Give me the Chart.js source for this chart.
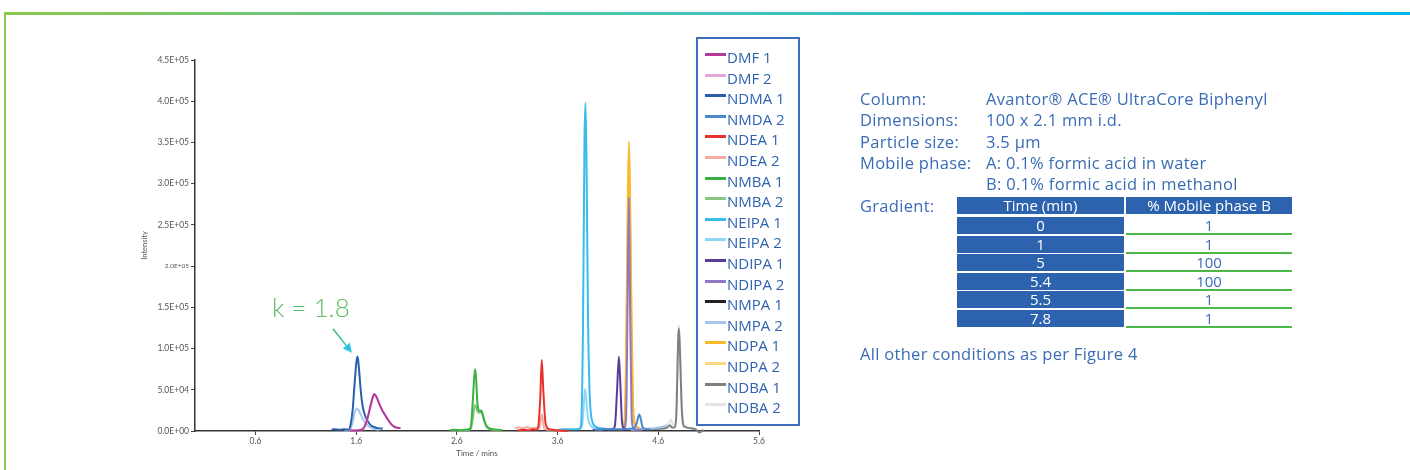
<!DOCTYPE html>
<html>
<head>
<meta charset="utf-8">
<script src="https://cdn.jsdelivr.net/npm/chart.js@4.4.1/dist/chart.umd.min.js"></script>
<style>
  html, body { margin: 0; padding: 0; background: #ffffff; }
  body { width: 1410px; height: 470px; position: relative; overflow: hidden; font-family: "Open Sans", "Noto Sans", sans-serif; }
  #frameTop { position: absolute; left: 4px; top: 12px; width: 1406px; height: 3px; background: linear-gradient(90deg, #8cc84b 0%, #4cc3b0 45%, #00b7ea 100%); }
  #frameLeft { position: absolute; left: 4px; top: 12px; width: 2px; height: 458px; background: #8cc84b; }
  #chart { position: absolute; left: 0; top: 0; }
  #legend { position: absolute; left: 696px; top: 37px; width: 100px; height: 385px; border: 2px solid #3d6fbe; }
  .lg-row { position: absolute; left: 0; height: 20px; width: 100px; }
  .lg-swatch { position: absolute; left: 7px; width: 21px; height: 3px; }
  .lg-text { position: absolute; left: 29px; top: 0; line-height: 20px; font-size: 15px; color: #2f63b1; white-space: nowrap; }
  .info { position: absolute; font-size: 16.5px; letter-spacing: 0.3px; color: #3a6cb6; white-space: nowrap; line-height: 21px; }
  .cell { position: absolute; height: 17px; line-height: 17px; font-size: 15px; text-align: center; white-space: nowrap; }
  .cell.head { background: #2c62ae; color: #ffffff; }
  .cell.time { background: #2c62ae; color: #ffffff; }
  .cell.pct { background: #ffffff; color: #3a6cb6; border-bottom: 2px solid #4cb848; height: 16px; line-height: 17px; }
</style>
</head>
<body>
<div id="frameTop"></div>
<div id="frameLeft"></div>
<canvas id="chart" width="1410" height="470"></canvas>
<div id="legend"></div>
<div id="panel"></div>
<script>
// ---- Chromatogram traces: retention time (min) and intensity (counts) ----
const tDMF   = [1.54, 1.59, 1.63, 1.67, 1.70, 1.73, 1.76, 1.78, 1.80, 1.83, 1.86, 1.89, 1.92, 1.95, 1.98, 2.01, 2.04];
const DMF1   = [500, 500, 1000, 3000, 10000, 24000, 39000, 45000, 42000, 33000, 25000, 19000, 13000, 8000, 5000, 4000, 3500];
const DMF2   = [500, 500, 1000, 2900, 9800, 23500, 38200, 44000, 41200, 32400, 24500, 18600, 12700, 7800, 4900, 3900, 3400];

const tNDMA1 = [1.355, 1.385, 1.435, 1.485, 1.525, 1.545, 1.565, 1.585, 1.605, 1.615, 1.625, 1.645, 1.665, 1.685, 1.705, 1.725, 1.745, 1.765, 1.785, 1.815, 1.845, 1.865];
const NDMA1  = [1500, 2000, 1500, 2000, 1500, 8000, 25000, 58000, 86000, 90200, 80000, 50000, 30000, 20000, 14000, 10000, 7000, 5500, 4500, 3500, 3000, 3000];

const tNMDA2 = [3.971, 4.071, 4.171, 4.271, 4.351, 4.381, 4.401, 4.411, 4.426, 4.441, 4.471, 4.521];
const NMDA2  = [1500, 2500, 2000, 2500, 3000, 8000, 17000, 20000, 15000, 6000, 2500, 2000];

const tNDEA1 = [3.198, 3.258, 3.318, 3.358, 3.388, 3.408, 3.428, 3.443, 3.458, 3.478, 3.498, 3.528, 3.578, 3.628, 3.708];
const NDEA1  = [500, 1500, 1000, 2000, 1500, 5000, 40000, 86200, 50000, 12000, 4000, 2000, 1000, 500, 0];
const tNDEA2 = [3.178, 3.218, 3.258, 3.298, 3.338, 3.378, 3.418, 3.443, 3.468, 3.528, 3.598, 3.638];
const NDEA2  = [3500, 4500, 3000, 5000, 3500, 4000, 3000, 20000, 3000, 1500, 1000, 500];

const tNMBA  = [2.53, 2.58, 2.63, 2.68, 2.72, 2.74, 2.76, 2.78, 2.79, 2.80, 2.81, 2.83, 2.84, 2.85, 2.87, 2.89, 2.92, 2.96, 3.00, 3.05];
const NMBA1  = [1000, 1500, 800, 1500, 2000, 6000, 40000, 75000, 66000, 42000, 28000, 24000, 25000, 23000, 14000, 7000, 3500, 2000, 1500, 1000];
const NMBA2  = [800, 1200, 700, 1200, 1500, 3000, 16000, 31500, 30000, 25000, 22500, 22000, 24500, 22000, 13000, 6000, 2500, 1500, 1200, 800];

const tNEIPA1 = [3.602, 3.672, 3.752, 3.812, 3.832, 3.852, 3.867, 3.877, 3.887, 3.902, 3.917, 3.932, 3.952, 3.982, 4.022, 4.072];
const NEIPA1  = [1500, 2000, 2000, 2500, 6000, 120000, 350000, 398000, 330000, 140000, 50000, 20000, 9000, 5000, 3500, 3000];
const tNEIPA2 = [3.812, 3.842, 3.857, 3.872, 3.887, 3.902, 3.922, 3.952, 3.992, 4.052];
const NEIPA2  = [2000, 5000, 25000, 51000, 35000, 15000, 8000, 4000, 2500, 2000];

const tNDIPA1 = [3.949, 4.019, 4.089, 4.149, 4.169, 4.189, 4.209, 4.224, 4.239, 4.254, 4.269];
const NDIPA1  = [1500, 2000, 2000, 2500, 6000, 45000, 90200, 55000, 12000, 4000, 3000];

const tNDPA  = [4.23, 4.26, 4.28, 4.295, 4.308, 4.32, 4.335, 4.35, 4.37, 4.40, 4.44];
const NDIPA2 = [2000, 3000, 15000, 150000, 283000, 150000, 20000, 4000, 2000, 1500, 1500];
const NDPA1  = [2000, 6000, 80000, 250000, 351000, 280000, 130000, 30000, 8000, 4000, 2500];
const NDPA2  = [2000, 5800, 78000, 244000, 342000, 273000, 126000, 29000, 7800, 3900, 2400];

const tNMPA1 = [];
const NMPA1  = [];
const tNMPA2 = [1.485, 1.535, 1.565, 1.585, 1.605, 1.625, 1.645, 1.665, 1.685, 1.705, 1.725, 1.745, 1.785, 1.825, 4.27, 4.33, 4.42, 4.52, 4.59, 4.65, 4.69];
const NMPA2  = [500, 1500, 10000, 22000, 27000, 25000, 20000, 15000, 11000, 8000, 5500, 4000, 2500, 1500, null, 1500, 2500, 3000, 4000, 5500, 7000];

const tNDBA1 = [4.517, 4.587, 4.647, 4.687, 4.717, 4.737, 4.767, 4.782, 4.797, 4.805, 4.817, 4.832, 4.847, 4.867, 4.907, 4.947, 4.977, 4.997, 5.017, 5.032, 5.047];
const NDBA1  = [2500, 2500, 3000, 4000, 7000, 4000, 5000, 30000, 110000, 124600, 90000, 30000, 8000, 5000, 3500, 3000, 1500, -1000, -1500, 0, 1500];
const tNDBA2 = [4.587, 4.667, 4.707, 4.727, 4.747, 4.777, 4.797, 4.805, 4.817, 4.837, 4.867, 4.917, 4.967];
const NDBA2  = [3000, 5000, 10000, 14000, 7000, 15000, 115000, 128000, 92000, 25000, 5000, 3000, 2500];

// ---- Series names (legend order) ----
const seriesNames = ['DMF 1', 'DMF 2', 'NDMA 1', 'NMDA 2', 'NDEA 1', 'NDEA 2', 'NMBA 1', 'NMBA 2', 'NEIPA 1', 'NEIPA 2',
                     'NDIPA 1', 'NDIPA 2', 'NMPA 1', 'NMPA 2', 'NDPA 1', 'NDPA 2', 'NDBA 1', 'NDBA 2'];
const seriesTimes  = [tDMF, tDMF, tNDMA1, tNMDA2, tNDEA1, tNDEA2, tNMBA, tNMBA, tNEIPA1, tNEIPA2,
                      tNDIPA1, tNDPA, tNMPA1, tNMPA2, tNDPA, tNDPA, tNDBA1, tNDBA2];
const seriesValues = [DMF1, DMF2, NDMA1, NMDA2, NDEA1, NDEA2, NMBA1, NMBA2, NEIPA1, NEIPA2,
                      NDIPA1, NDIPA2, NMPA1, NMPA2, NDPA1, NDPA2, NDBA1, NDBA2];
const seriesColors = ['#b23a9b', '#e4a8d7', '#2a5fad', '#4a88cc', '#e8322c', '#f6aaa0', '#3bb042', '#85c77c', '#3bbaec', '#8fd5f6',
                      '#5a3c98', '#9079c4', '#222222', '#a4c6ec', '#fbb828', '#fdd680', '#808080', '#e4e4e4'];

// ---- Axis ticks ----
const xTickValues = [0.6, 1.6, 2.6, 3.6, 4.6, 5.6];
const yTickValues = [0, 50000, 100000, 150000, 200000, 250000, 300000, 350000, 400000, 450000];
const yTickLabels = ['0.0E+00', '5.0E+04', '1.0E+05', '1.5E+05', '2.0E+05', '2.5E+05', '3.0E+05', '3.5E+05', '4.0E+05', '4.5E+05'];

// ---- Method conditions ----
const conditionLabels = ['Column:', 'Dimensions:', 'Particle size:', 'Mobile phase:', ''];
const conditionValues = ['Avantor\u00AE ACE\u00AE UltraCore Biphenyl', '100 x 2.1 mm i.d.', '3.5 \u00B5m',
                         'A: 0.1% formic acid in water', 'B: 0.1% formic acid in methanol'];
const gradientHeader = ['Time (min)', '% Mobile phase B'];
const gradientTime = ['0', '1', '5', '5.4', '5.5', '7.8'];
const gradientB    = ['1', '1', '100', '100', '1', '1'];

// Retention-factor callout next to the NDMA peak (data coordinates)
const callout = { text: 'k = 1.8', textAt: [1.15, 149000], from: [1.37, 124000], to: [1.558, 95000] };

const datasets = seriesNames.map((name, i) => ({
  label: name,
  data: seriesTimes[i].map((t, j) => ({ x: t, y: seriesValues[i][j] })),
  borderColor: seriesColors[i],
  backgroundColor: seriesColors[i],
  borderWidth: 2,
  pointRadius: 0,
  fill: false,
  spanGaps: false,
  clip: false,
  cubicInterpolationMode: 'monotone',
  tension: 0.4
}));

const calloutPlugin = {
  id: 'calloutPlugin',
  afterDatasetsDraw(chart) {
    const { ctx, scales: { x, y } } = chart;
    const tx = x.getPixelForValue(callout.textAt[0]);
    const ty = y.getPixelForValue(callout.textAt[1]);
    const x0 = x.getPixelForValue(callout.from[0]);
    const y0 = y.getPixelForValue(callout.from[1]);
    const x1 = x.getPixelForValue(callout.to[0]);
    const y1 = y.getPixelForValue(callout.to[1]);
    ctx.save();
    ctx.font = '300 26px Lato, "Open Sans", sans-serif';
    ctx.fillStyle = '#5cbc62';
    ctx.textAlign = 'center';
    ctx.textBaseline = 'middle';
    ctx.fillText(callout.text, tx, ty);
    const ang = Math.atan2(y1 - y0, x1 - x0);
    const headLen = 9;
    const bx = x1 - headLen * Math.cos(ang);
    const by = y1 - headLen * Math.sin(ang);
    const grad = ctx.createLinearGradient(x0, y0, x1, y1);
    grad.addColorStop(0, '#4dbb6c');
    grad.addColorStop(1, '#2ec3dc');
    ctx.strokeStyle = grad;
    ctx.lineWidth = 1.6;
    ctx.beginPath();
    ctx.moveTo(x0, y0);
    ctx.lineTo(bx, by);
    ctx.stroke();
    ctx.fillStyle = '#2ec5e0';
    ctx.beginPath();
    ctx.moveTo(x1, y1);
    ctx.lineTo(bx + 4.5 * Math.sin(ang), by - 4.5 * Math.cos(ang));
    ctx.lineTo(bx - 4.5 * Math.sin(ang), by + 4.5 * Math.cos(ang));
    ctx.closePath();
    ctx.fill();
    ctx.restore();
  }
};

const tickFont = { family: 'Lato, "Open Sans", sans-serif', size: 8.5 };

new Chart(document.getElementById('chart'), {
  type: 'line',
  data: { datasets },
  plugins: [calloutPlugin],
  options: {
    responsive: false,
    animation: false,
    events: [],
    layout: { padding: { left: 140, right: 651, top: 60, bottom: 12 } },
    plugins: { legend: { display: false }, tooltip: { enabled: false } },
    scales: {
      x: {
        type: 'linear',
        min: 0,
        max: 5.6,
        afterBuildTicks: (s) => { s.ticks = xTickValues.map(v => ({ value: v })); },
        afterFit: (s) => { s.height = 27; },
        ticks: { font: tickFont, color: '#555555', padding: 1, maxRotation: 0, callback: (v) => v.toFixed(1) },
        grid: { drawOnChartArea: false, drawTicks: true, tickLength: 4, color: '#444444', lineWidth: 1 },
        border: { display: true, color: '#333333', width: 1.5 },
        title: { display: true, text: 'Time / mins', color: '#555555', font: { family: 'Lato, "Open Sans", sans-serif', size: 8 }, padding: { top: 2, bottom: 0 } }
      },
      y: {
        type: 'linear',
        min: 0,
        max: 450000,
        afterBuildTicks: (s) => { s.ticks = yTickValues.map(v => ({ value: v })); },
        afterFit: (s) => { s.width = 55; },
        ticks: {
          color: '#555555',
          padding: 2,
          font: (c) => ({ family: 'Lato, "Open Sans", sans-serif', size: c.tick && c.tick.value === 200000 ? 6.5 : 8.5 }),
          callback: (v) => yTickLabels[yTickValues.indexOf(v)]
        },
        grid: { drawOnChartArea: false, drawTicks: true, tickLength: 4, color: '#444444', lineWidth: 1 },
        border: { display: true, color: '#333333', width: 1.5 },
        title: { display: true, text: 'Intensity', color: '#555555', font: { family: 'Lato, "Open Sans", sans-serif', size: 7.5 }, padding: { top: 0, bottom: 0 } }
      }
    }
  }
});

// ---- Legend box ----
const legend = document.getElementById('legend');
seriesNames.forEach((name, i) => {
  const row = document.createElement('div');
  row.className = 'lg-row';
  row.style.top = (8 + i * 20.6) + 'px';
  const sw = document.createElement('div');
  sw.className = 'lg-swatch';
  sw.style.top = '6px';
  sw.style.background = seriesColors[i];
  const tx = document.createElement('div');
  tx.className = 'lg-text';
  tx.textContent = name;
  row.appendChild(sw);
  row.appendChild(tx);
  legend.appendChild(row);
});

// ---- Method conditions panel ----
const panel = document.getElementById('panel');
function addText(text, left, top) {
  const d = document.createElement('div');
  d.className = 'info';
  d.style.left = left + 'px';
  d.style.top = top + 'px';
  d.textContent = text;
  panel.appendChild(d);
  return d;
}
conditionLabels.forEach((lab, i) => {
  const top = 88 + i * 21.3;
  if (lab) addText(lab, 860, top);
  addText(conditionValues[i], 986, top);
});
addText('Gradient:', 860, 195);
addText('All other conditions as per Figure 4', 860, 343);

function addCell(cls, text, left, top, width) {
  const d = document.createElement('div');
  d.className = 'cell ' + cls;
  d.style.left = left + 'px';
  d.style.top = top + 'px';
  d.style.width = width + 'px';
  d.textContent = text;
  panel.appendChild(d);
}
addCell('head', gradientHeader[0], 957, 197, 167);
addCell('head', gradientHeader[1], 1126, 197, 166);
gradientTime.forEach((t, i) => {
  const top = 217 + i * 18.6;
  addCell('time', t, 957, top, 167);
  addCell('pct', gradientB[i], 1126, top, 166);
});
</script>
</body>
</html>
